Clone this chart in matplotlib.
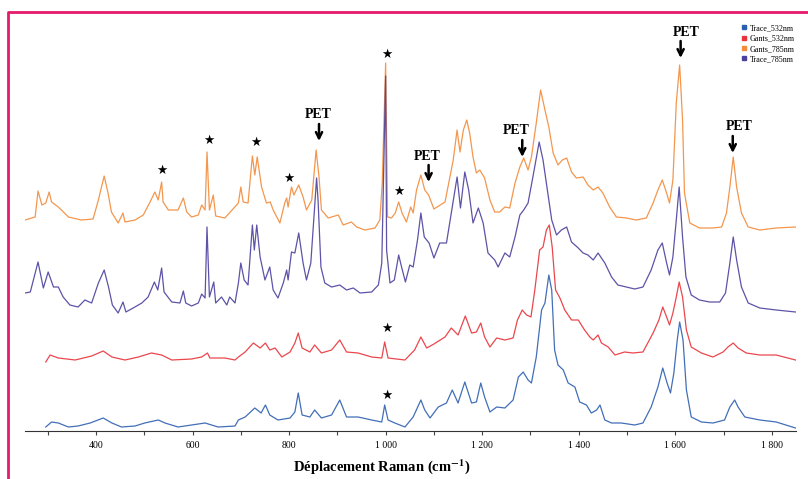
"""Raman spectra: traces vs gloves at 532 / 785 nm, with PET bands flagged."""
import numpy as np
import matplotlib
matplotlib.use("Agg")
import matplotlib.pyplot as plt
from matplotlib.lines import Line2D
from matplotlib.ticker import MultipleLocator, FuncFormatter

plt.rcParams["font.family"] = ["Liberation Serif", "DejaVu Serif"]
plt.rcParams["mathtext.fontset"] = "stix"

# values: (Raman shift cm-1, intensity above own baseline, a.u.)
gants_785_x = [253, 274, 280, 288, 296, 303, 308, 322, 343, 370, 394, 405, 417, 425, 432, 446, 456, 460,
               481, 498, 512, 522, 529, 536, 539, 550, 570, 581, 588, 598, 612, 619, 626, 630, 635, 643,
               648, 667, 695, 700, 705, 715, 724, 729, 734, 743, 753, 761, 767, 781, 791, 795, 798, 805,
               810, 820, 829, 836, 847, 856, 862, 867, 881, 902, 912, 929, 940, 957, 978, 988, 993, 1000,
               1004, 1012, 1020, 1027, 1034, 1043, 1052, 1057, 1064, 1073, 1081, 1089, 1100, 1123, 1133,
               1140, 1148, 1154, 1161, 1168, 1174, 1181, 1188, 1195, 1205, 1216, 1226, 1236, 1247, 1257,
               1268, 1278, 1286, 1295, 1302, 1312, 1321, 1330, 1338, 1347, 1357, 1366, 1375, 1385, 1395,
               1409, 1419, 1430, 1440, 1450, 1464, 1478, 1499, 1519, 1540, 1554, 1564, 1573, 1582, 1588,
               1595, 1602, 1609, 1615, 1619, 1630, 1650, 1678, 1696, 1706, 1713, 1720, 1727, 1737, 1751,
               1775, 1809, 1849]
gants_785_y = [1, 4, 30, 16, 18, 29, 19, 14, 4, 1, 2, 21, 45, 28, 9, -2, 8, -1,
               1, 6, 19, 29, 21, 39, 19, 11, 11, 23, 9, 4, 6, 16, 11, 69, 11, 26,
               5, 3, 18, 34, 19, 18, 65, 46, 64, 34, 18, 19, 11, -2, 18, 23, 14, 34,
               26, 36, 24, 11, 21, 71, 44, 11, 3, 6, -4, -1, -6, -9, -7, 1, 38, 158,
               4, 3, 8, 19, 8, -1, 14, 8, 31, 46, 31, 26, 12, 19, 44,
               61, 91, 69, 91, 101, 88, 64, 48, 51, 43, 21, 9, 9, 14, 13,
               38, 54, 63, 51, 64, 98, 131, 111, 94, 68, 56, 61, 63, 49, 43,
               44, 36, 31, 34, 28, 14, 4, 3, 1, 3, 18, 31, 41, 28, 18,
               41, 118, 156, 101, 28, -2, -7, -7, -6, 8, 34, 64, 34, 8, -6,
               -9, -7, -6]

trace_785_x = [253, 264, 280, 291, 301, 312, 322, 332, 346, 363, 377, 391, 405, 417, 426, 434, 446, 456,
               462, 477, 495, 508, 521, 528, 536, 541, 557, 574, 581, 586, 598, 612, 619, 626, 630, 635,
               644, 648, 660, 671, 677, 688, 695, 700, 707, 715, 724, 728, 733, 740, 750, 760, 767, 777,
               788, 795, 798, 805, 812, 820, 829, 836, 845, 857, 860, 866, 874, 888, 905, 919, 933, 947,
               971, 985, 992, 1000, 1002, 1009, 1018, 1027, 1033, 1041, 1050, 1057, 1066, 1073, 1080,
               1090, 1100, 1112, 1126, 1136, 1148, 1155, 1164, 1172, 1181, 1192, 1202, 1212, 1226, 1233,
               1247, 1257, 1268, 1278, 1286, 1295, 1305, 1318, 1326, 1335, 1344, 1354, 1364, 1375, 1385,
               1399, 1409, 1419, 1430, 1440, 1454, 1468, 1481, 1499, 1516, 1533, 1550, 1564, 1573, 1582,
               1588, 1595, 1602, 1608, 1615, 1622, 1633, 1650, 1671, 1692, 1704, 1713, 1720, 1727, 1737,
               1751, 1775, 1809, 1849]
trace_785_y = [10, 11, 41, 15, 31, 16, 16, 6, -2, -4, 3, 0, 20, 33, 16, -2, -10, 1,
               -9, -5, 0, 6, 21, 13, 35, 11, 1, 0, 12, 0, -3, 0, 9, 5, 76, 6,
               21, 0, 6, -2, 6, 0, 20, 40, 23, 18, 78, 53, 78, 46, 23, 36, 13, 5,
               20, 33, 23, 51, 50, 70, 40, 23, 40, 125, 103, 36, 20, 16, 18, 13, 15, 10,
               11, 18, 40, 227, 53, 20, 23, 48, 36, 21, 38, 36, 63, 90, 66,
               60, 45, 60, 60, 90, 126, 95, 131, 113, 80, 95, 80, 50, 43, 36,
               50, 46, 66, 88, 93, 100, 126, 161, 143, 113, 83, 68, 73, 76, 61,
               55, 50, 48, 43, 50, 40, 26, 18, 16, 14, 16, 33, 53, 60, 40,
               28, 46, 83, 116, 66, 26, 8, 3, 1, 1, 10, 40, 66, 43, 16,
               0, -5, -7, -9]

gants_532_x = [296, 305, 322, 357, 391, 415, 433, 460, 488, 515, 536, 557, 598, 619, 631, 636, 667, 688,
               695, 709, 726, 740, 751, 760, 771, 785, 802, 812, 819, 827, 843, 853, 867, 888, 905, 919,
               943, 971, 992, 998, 1005, 1040, 1060, 1073, 1085, 1100, 1123, 1136, 1150, 1165, 1178,
               1188, 1197, 1205, 1216, 1230, 1247, 1264, 1273, 1283, 1292, 1301, 1309, 1319, 1326, 1333,
               1339, 1345, 1352, 1361, 1371, 1385, 1399, 1412, 1423, 1430, 1440, 1447, 1461, 1475, 1495,
               1512, 1533, 1554, 1566, 1574, 1582, 1588, 1595, 1602, 1608, 1615, 1623, 1633, 1654, 1678,
               1699, 1709, 1720, 1730, 1747, 1775, 1809, 1849]
gants_532_y = [-3, 4, 1, -1, 3, 8, 2, -1, 2, 6, 4, -1, 0, 2, 6, 1, 1, -1,
               2, 7, 16, 11, 16, 9, 11, 2, 7, 16, 26, 11, 7, 14, 6, 9, 19, 7,
               6, 2, 1, 17, 1, -1, 9, 22, 11, 15, 22, 31, 24, 43, 26,
               27, 36, 22, 12, 21, 19, 21, 39, 49, 44, 42, 69, 109, 112, 129,
               134, 112, 69, 61, 49, 39, 39, 29, 22, 19, 24, 16, 12, 4, 7,
               6, 7, 26, 39, 52, 42, 34, 46, 62, 77, 62, 29, 12, 6, 2,
               7, 12, 16, 11, 6, 4, 4, -1]

trace_532_x = [296, 308, 322, 343, 363, 388, 415, 433, 453, 481, 501, 529, 543, 570, 598, 626, 653, 688,
               695, 709, 729, 742, 751, 760, 777, 802, 812, 819, 827, 843, 853, 867, 888, 905, 919, 943,
               971, 992, 998, 1005, 1019, 1040, 1057, 1073, 1081, 1092, 1109, 1126, 1138, 1150, 1164,
               1178, 1188, 1197, 1205, 1216, 1230, 1247, 1264, 1275, 1285, 1295, 1302, 1312, 1323, 1330,
               1338, 1344, 1350, 1357, 1368, 1378, 1392, 1402, 1416, 1426, 1437, 1444, 1454, 1468, 1488,
               1516, 1533, 1550, 1564, 1574, 1583, 1590, 1597, 1604, 1609, 1616, 1623, 1633, 1654, 1678,
               1702, 1713, 1723, 1730, 1744, 1775, 1809, 1849]
trace_532_y = [0, 5, 4, 0, 1, 4, 9, 4, 0, 1, 4, 7, 4, 0, 2, 4, 0, 1,
               7, 10, 19, 14, 22, 12, 7, 9, 15, 34, 12, 10, 17, 9, 12, 27, 10, 10,
               7, 5, 22, 7, 4, 0, 10, 27, 17, 9, 20, 24, 37, 24, 45,
               24, 25, 44, 30, 15, 20, 19, 27, 50, 55, 47, 44, 70, 117, 124,
               152, 137, 77, 62, 57, 44, 40, 25, 22, 14, 17, 22, 7, 4, 4,
               2, 4, 20, 40, 59, 44, 34, 54, 87, 105, 87, 37, 10, 5, 4,
               7, 20, 27, 20, 10, 7, 5, -1]

names = ["Trace_532nm", "Gants_532nm", "Gants_785nm", "Trace_785nm"]
colors = ["#2d5fb0", "#e8333a", "#f38b3a", "#4b409e"]
offsets = [4, 72, 210, 128]
series = [(trace_532_x, trace_532_y), (gants_532_x, gants_532_y),
          (gants_785_x, gants_785_y), (trace_785_x, trace_785_y)]

# annotations: stars (x, y) and PET labels (text x, text y, arrow x)
stars = [(537, 261), (634, 291), (731, 289), (800, 253), (1002, 377), (1027, 240), (1002, 103), (1002, 36)]
pet = [(860, 316, 862), (1087, 275, 1089), (1270, 300, 1283), (1623, 399, 1611), (1733, 304, 1719)]

fig = plt.figure(figsize=(8.08, 4.79), dpi=100, facecolor="white")
ax = fig.add_axes([25 / 808, 48 / 479, 771 / 808, 411 / 479])

for (xs, ys), c, off in zip(series, colors, offsets):
    ax.plot(xs, np.array(ys) + off, color=c, lw=0.9, alpha=0.9)

for sx, sy in stars:
    ax.text(sx, sy, "★", ha="center", va="center", fontsize=9, family="DejaVu Sans", color="k")
for tx, ty, axx in pet:
    ax.text(tx, ty, "PET", ha="center", va="center", fontsize=10, fontweight="bold", color="k")
    ax.annotate("", xy=(axx, ty - 26), xytext=(axx, ty - 9),
                arrowprops=dict(arrowstyle="->", lw=1.8, color="k", mutation_scale=11,
                                shrinkA=0, shrinkB=0))

ax.set_xlim(253, 1850)
ax.set_ylim(0, 411)
for s in ("left", "top", "right"):
    ax.spines[s].set_visible(False)
ax.spines["bottom"].set_color("#333333")
ax.set_yticks([])
ax.xaxis.set_major_locator(MultipleLocator(200))
ax.xaxis.set_minor_locator(MultipleLocator(100))
ax.xaxis.set_major_formatter(FuncFormatter(lambda v, p: f"{int(v):,}".replace(",", " ")))
ax.tick_params(axis="x", which="both", direction="out", length=3, width=0.8, color="#444444",
               labelsize=7, pad=4)
fig.text(382 / 808, 1 - 467 / 479, r"Déplacement Raman (cm$^{\mathbf{-1}}$)", ha="center", va="center",
         fontsize=10.5, fontweight="bold")

handles = [Line2D([], [], ls="", marker="s", markersize=2.8, color=c) for c in colors]
fig.legend(handles, names, loc="upper left", bbox_to_anchor=(737 / 808, 1 - 20 / 479), frameon=False,
           prop={"size": 5.8}, handletextpad=0.3, labelspacing=0.3, borderpad=0, handlelength=0.8)

fig.add_artist(Line2D([8 / 808, 8 / 808, 1], [0, 1 - 12 / 479, 1 - 12 / 479], transform=fig.transFigure,
                      color="#e5196d", lw=2))

fig.savefig("out.png", dpi=100)
